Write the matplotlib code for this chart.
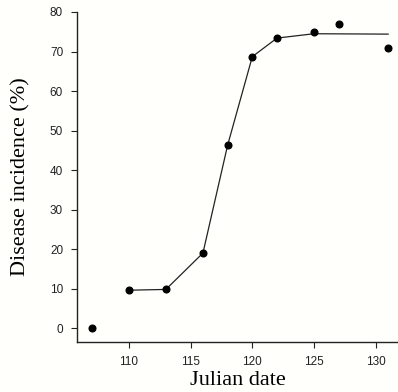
import matplotlib.pyplot as plt

# observed disease incidence
days = [107, 110, 113, 116, 118, 120, 122, 125, 127, 131]
incidence = [0, 9.6, 9.8, 19, 46.3, 68.7, 73.4, 74.9, 76.9, 71.0]

# fitted curve
fit_days = [110, 113, 116, 118, 120, 122, 125, 131]
fit_vals = [9.6, 9.8, 19, 46.3, 68.7, 73.4, 74.5, 74.4]

xticks = [110, 115, 120, 125, 130]
yticks = [0, 10, 20, 30, 40, 50, 60, 70, 80]

fig = plt.figure(figsize=(3.98, 3.92), dpi=100, facecolor="#fffffb")
ax = fig.add_axes([0.1935, 0.1276, 0.8065, 0.8418])
ax.set_facecolor("#fffffb")

ax.plot(fit_days, fit_vals, color="#222222", lw=0.9)
ax.plot(days, incidence, "o", color="black", ms=4.8)

ax.set_xlim(105.8, 131.8)
ax.set_ylim(-3.5, 80)
ax.set_xticks(xticks)
ax.set_yticks(yticks)
for s in ["top", "right"]:
    ax.spines[s].set_visible(False)
for s in ["left", "bottom"]:
    ax.spines[s].set_linewidth(1.0)
    ax.spines[s].set_color("#222222")

ax.tick_params(direction="out", length=4, width=0.8, labelsize=8.5, pad=6,
               colors="#222222")
for lab in ax.get_xticklabels() + ax.get_yticklabels():
    lab.set_family("Liberation Sans")

ax.set_xlabel("Julian date", family="Liberation Serif", fontsize=16, labelpad=2)
ax.set_ylabel("Disease incidence (%)", family="Liberation Serif", fontsize=16, labelpad=14)

fig.savefig("out.png", dpi=100, facecolor=fig.get_facecolor())
